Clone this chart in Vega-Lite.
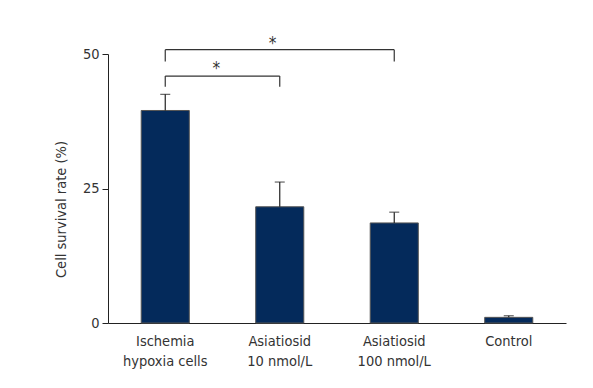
{
  "$schema": "https://vega.github.io/schema/vega-lite/v6.json",
  "autosize": "none",
  "width": 458,
  "height": 269,
  "padding": {"left": 108, "top": 54, "right": 27, "bottom": 65},
  "background": "white",
  "config": {
    "view": {"stroke": null},
    "font": "DejaVu Sans Condensed",
    "axis": {"labelFont": "DejaVu Sans Condensed", "titleFont": "DejaVu Sans Condensed", "labelColor": "#333333", "titleColor": "#333333", "domainColor": "#222222", "tickColor": "#222222", "grid": false}
  },
  "datasets": {
    "bars": [
      {"group": "Ischemia|hypoxia cells", "mean": 39.5, "upper": 42.5},
      {"group": "Asiatiosid|10 nmol/L", "mean": 21.6, "upper": 26.2},
      {"group": "Asiatiosid|100 nmol/L", "mean": 18.6, "upper": 20.6},
      {"group": "Control", "mean": 1.05, "upper": 1.35}
    ],
    "spans": [
      {"from": "Ischemia|hypoxia cells", "to": "Asiatiosid|10 nmol/L", "y": 45.9},
      {"from": "Ischemia|hypoxia cells", "to": "Asiatiosid|100 nmol/L", "y": 50.8}
    ],
    "legs": [
      {"group": "Ischemia|hypoxia cells", "top": 45.9, "bottom": 43.9},
      {"group": "Asiatiosid|10 nmol/L", "top": 45.9, "bottom": 43.9},
      {"group": "Ischemia|hypoxia cells", "top": 50.8, "bottom": 48.6},
      {"group": "Asiatiosid|100 nmol/L", "top": 50.8, "bottom": 48.6}
    ],
    "star1": [{"group": "Ischemia|hypoxia cells", "y": 47.25, "label": "*"}],
    "star2": [{"group": "Asiatiosid|10 nmol/L", "y": 51.95, "label": "*"}]
  },
  "encoding": {
    "x": {
      "field": "group", "type": "nominal",
      "scale": {"domain": ["Ischemia|hypoxia cells", "Asiatiosid|10 nmol/L", "Asiatiosid|100 nmol/L", "Control"], "paddingInner": 0.58, "paddingOuter": 0.29},
      "axis": {"title": null, "labelAngle": 0, "ticks": false, "labelPadding": 11, "labelFontSize": 14.5, "labelLineHeight": 20, "labelExpr": "split(datum.label, '|')", "labelBaseline": "top"}
    }
  },
  "layer": [
    {
      "data": {"name": "bars"},
      "mark": {"type": "bar", "fill": "#042a5b", "stroke": "#555555", "strokeWidth": 1},
      "encoding": {
        "y": {"field": "mean", "type": "quantitative",
          "scale": {"domain": [0, 50], "nice": false, "zero": true},
          "axis": {"values": [0, 25, 50], "title": "Cell survival rate (%)", "titleFontSize": 14.5, "titleFontWeight": "normal", "labelFontSize": 14.5, "tickSize": 6, "labelPadding": 3, "titleX": -40, "titleY": 155}
        }
      }
    },
    {
      "data": {"name": "bars"},
      "mark": {"type": "rule", "color": "#222222", "strokeWidth": 1.2},
      "encoding": {"y": {"field": "mean", "type": "quantitative"}, "y2": {"field": "upper"}}
    },
    {
      "data": {"name": "bars"},
      "mark": {"type": "tick", "color": "#222222", "thickness": 1.2, "size": 10, "orient": "horizontal"},
      "encoding": {"y": {"field": "upper", "type": "quantitative"}}
    },
    {
      "data": {"name": "spans"},
      "mark": {"type": "rule", "color": "#333333", "strokeWidth": 1.2},
      "encoding": {
        "x": {"field": "from", "type": "nominal", "bandPosition": 0.5},
        "x2": {"field": "to", "bandPosition": 0.5},
        "y": {"field": "y", "type": "quantitative"}
      }
    },
    {
      "data": {"name": "legs"},
      "mark": {"type": "rule", "color": "#333333", "strokeWidth": 1.2},
      "encoding": {
        "y": {"field": "top", "type": "quantitative"},
        "y2": {"field": "bottom"}
      }
    },
    {
      "data": {"name": "star1"},
      "mark": {"type": "text", "fontSize": 17, "color": "#333333", "baseline": "middle"},
      "encoding": {
        "x": {"field": "group", "type": "nominal", "bandPosition": 1.56},
        "y": {"field": "y", "type": "quantitative"},
        "text": {"field": "label"}
      }
    },
    {
      "data": {"name": "star2"},
      "mark": {"type": "text", "fontSize": 17, "color": "#333333", "baseline": "middle"},
      "encoding": {
        "x": {"field": "group", "type": "nominal", "bandPosition": 0.35},
        "y": {"field": "y", "type": "quantitative"},
        "text": {"field": "label"}
      }
    }
  ]
}
